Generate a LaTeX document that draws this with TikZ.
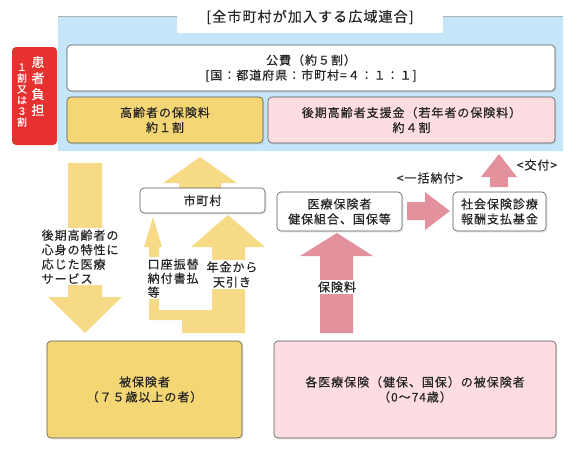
\documentclass[tikz,border=0pt]{standalone}
\usepackage{fontspec}
\setmainfont{Noto Sans CJK JP}[LetterSpace=8,FakeBold=0.5]
\usepackage{tikz}
\usetikzlibrary{calc,shadows}
\definecolor{areablue}{HTML}{C4E6F8}
\definecolor{boxyellow}{HTML}{F5D675}
\definecolor{arryellow}{HTML}{F6DA85}
\definecolor{boxpink}{HTML}{FDDCE2}
\definecolor{arrpink}{HTML}{E4919E}
\definecolor{futanred}{HTML}{E7312F}
\definecolor{textgray}{HTML}{262626}
\definecolor{linegray}{HTML}{555555}

\begin{document}
\begin{tikzpicture}[x=1pt,y=-1pt,every node/.style={text=textgray,inner sep=0pt,font=\fontsize{12}{15}\selectfont}]
\tikzstyle{box}=[draw=linegray,line width=0.6pt,rounded corners=4pt,align=center,
   drop shadow={opacity=0.15,shadow xshift=1.5pt,shadow yshift=-1.5pt}]
\tikzstyle{yarrow}=[fill=arryellow]
\tikzstyle{parrow}=[fill=arrpink]
\tikzstyle{blank}=[fill=white,inner sep=1.5pt,align=left]

\useasboundingbox (0,0) rectangle (580,453);

\fill [areablue] (58,16) -- (177,16) -- (177,33) -- (443,33) -- (443,16) -- (563,16)
   -- (563,151) -- (58,151) -- cycle;
\draw [gray!60,line width=0.8pt] (58,16) -- (177,16) (443,16) -- (563,16);
\node (Title) at (310,17) [font=\fontsize{14}{16}\selectfont] {[全市町村が加入する広域連合]};

\node (Futan) at (34.5,96) [fill=futanred,rounded corners=4pt,minimum width=45pt,minimum height=98pt] {};
\node (F1) at (38,86) [text=white,align=center,font=\fontsize{13}{16}\selectfont] {患\\者\\負\\担};
\node (F2) at (22,95) [text=white,align=center,font=\fontsize{10}{11}\selectfont] {１\\割\\又\\は\\３\\割};

\node (Kohi) at (311,68) [box,fill=white,minimum width=488pt,minimum height=46pt]
   {公費（約５割）\\{[}国：都道府県：市町村=４：１：１{]}};
\node (Kourei) at (165,120) [box,fill=boxyellow,minimum width=196pt,minimum height=46pt]
   {高齢者の保険料\\約１割};
\node (Shien) at (411.5,120) [box,fill=boxpink,minimum width=287pt,minimum height=46pt]
   {後期高齢者支援金（若年者の保険料）\\約４割};

\fill [yarrow] (68,163) -- (102,163) -- (102,297) -- (122,297) -- (85,333) -- (48,297) -- (68,297) -- cycle;
\node (Service) at (40,228) [blank,anchor=north west,font=\fontsize{12}{14.5}\selectfont]
   {後期高齢者の\\心身の特性に\\応じた医療\\サービス};

\fill [yarrow] (200,157) -- (237,183) -- (221,183) -- (221,192) -- (179,192) -- (179,183) -- (163,183) -- cycle;
\fill [yarrow] (153,217) -- (162,247) -- (159,247) -- (159,310) -- (212,310) -- (212,247) -- (191,247)
   -- (228,215) -- (265,247) -- (245,247) -- (245,333) -- (182,333) -- (182,320) -- (149,320)
   -- (149,247) -- (144,247) -- cycle;
\node (Shichoson) at (202.5,200.5) [box,fill=white,minimum width=125pt,minimum height=25pt] {市町村};
\node (Koza) at (146,257) [blank,anchor=north west,font=\fontsize{12}{14}\selectfont]
   {口座振替\\納付書払\\等};
\node (Nenkin) at (232,274.5) [blank,align=center,font=\fontsize{12}{15}\selectfont]
   {年金から\\天引き};

\fill [parrow] (337,233) -- (373,256) -- (353,256) -- (353,333) -- (320,333) -- (320,256) -- (300,256) -- cycle;
\node (Hokenryo) at (337,287) [blank] {保険料};
\node (Iryo) at (339.5,211.5) [box,fill=white,minimum width=125pt,minimum height=39pt]
   {医療保険者\\健保組合、国保等};
\node (Kikin) at (499.5,211.5) [box,fill=white,minimum width=93pt,minimum height=39pt]
   {社会保険診療\\報酬支払基金};
\fill [parrow] (407,202) -- (425,202) -- (425,192) -- (450,211) -- (425,230) -- (425,220) -- (407,220) -- cycle;
\node (Ikkatsu) at (430,178) {<一括納付>};
\fill [parrow] (499,154) -- (517,177) -- (508,177) -- (508,187) -- (490,187) -- (490,177) -- (481,177) -- cycle;
\node (Kofu) at (537,165) {<交付>};

\node (Hihoken) at (144.5,389.5) [box,fill=boxyellow,minimum width=195pt,minimum height=97pt]
   {被保険者\\（７５歳以上の者）};
\node (Kaku) at (415,389.5) [box,fill=boxpink,minimum width=282pt,minimum height=97pt]
   {各医療保険（健保、国保）の被保険者\\（0～74歳）};

\end{tikzpicture}
\end{document}
